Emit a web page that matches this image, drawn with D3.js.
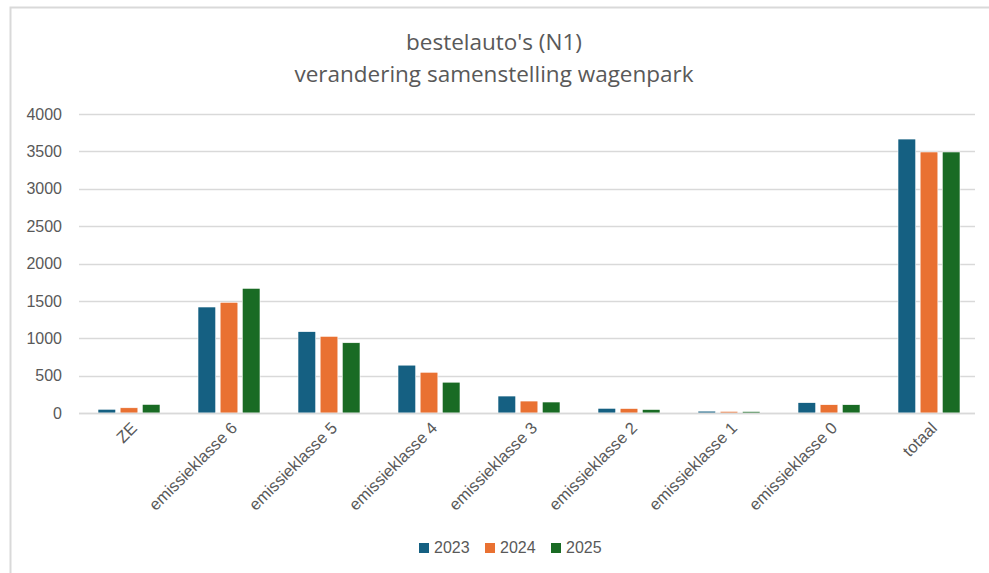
<!DOCTYPE html>
<html>
<head>
<meta charset="UTF-8">
<style>
  body { margin: 0; background: #fff; }
  svg { display: block; }
  .tick text { fill: #595959; }
</style>
</head>
<body>
<svg id="chart"></svg>
<script src="https://d3js.org/d3.v7.min.js"></script>
<script>
// data
const categories = ["ZE", "emissieklasse 6", "emissieklasse 5", "emissieklasse 4",
  "emissieklasse 3", "emissieklasse 2", "emissieklasse 1", "emissieklasse 0", "totaal"];
const years = ["2023", "2024", "2025"];
const values2023 = [50, 1418, 1088, 640, 227, 63, 25, 138, 3665];
const values2024 = [70, 1481, 1026, 545, 160, 60, 22, 111, 3492];
const values2025 = [115, 1668, 940, 412, 147, 47, 20, 111, 3492];
const yTicks = [0, 500, 1000, 1500, 2000, 2500, 3000, 3500, 4000];
const colors = ["#156082", "#e97132", "#196b24"];
const titleLines = ["bestelauto's (N1)", "verandering samenstelling wagenpark"];

const width = 989, height = 573;
const series = [values2023, values2024, values2025];

const svg = d3.select("#chart").attr("width", width).attr("height", height);

// chart area frame (only top + left visible in the screenshot)
svg.append("path")
  .attr("d", "M10.5,580 L10.5,7.5 L1000,7.5")
  .attr("fill", "none")
  .attr("stroke", "#d9d9d9")
  .attr("stroke-width", 2);

const x0 = d3.scaleBand().domain(categories).range([79, 979]).paddingInner(0.38).paddingOuter(0.19);
const x1 = d3.scaleBand().domain(years).range([0, x0.bandwidth()]).paddingInner(0.2).paddingOuter(0);
const y = d3.scaleLinear().domain([0, 4000]).range([413, 114]);

// gridlines
svg.append("g")
  .selectAll("line")
  .data(yTicks)
  .join("line")
  .attr("x1", 79).attr("x2", 975)
  .attr("y1", d => Math.round(y(d)) + 0.5)
  .attr("y2", d => Math.round(y(d)) + 0.5)
  .attr("stroke", "#d9d9d9")
  .attr("stroke-width", 1.3);

// y axis labels
const yAxis = svg.append("g")
  .attr("transform", "translate(62,0)")
  .call(d3.axisLeft(y).tickValues(yTicks).tickFormat(d3.format("d")).tickSize(0).tickPadding(0));
yAxis.select(".domain").remove();
yAxis.selectAll("text")
  .attr("font-family", "'Liberation Sans', Arial, sans-serif")
  .attr("font-size", 16);

// bars
const groups = svg.append("g")
  .selectAll("g")
  .data(categories)
  .join("g")
  .attr("transform", d => `translate(${x0(d)},0)`);

groups.selectAll("rect")
  .data((d, i) => years.map((yr, j) => ({ yr, v: series[j][i], c: colors[j] })))
  .join("rect")
  .attr("x", d => x1(d.yr))
  .attr("width", x1.bandwidth())
  .attr("y", d => y(d.v))
  .attr("height", d => y(0) - y(d.v))
  .attr("fill", d => d.c)
  .attr("stroke", "#fff")
  .attr("stroke-width", 0.6);

// baseline
svg.append("line")
  .attr("x1", 79).attr("x2", 975)
  .attr("y1", 413.5).attr("y2", 413.5)
  .attr("stroke", "#d9d9d9")
  .attr("stroke-width", 1.5);

// x axis labels, rotated
const xAxis = svg.append("g")
  .attr("transform", "translate(0,413)")
  .call(d3.axisBottom(x0).tickSize(0));
xAxis.select(".domain").remove();
xAxis.selectAll("text")
  .attr("font-family", "'Liberation Sans', Arial, sans-serif")
  .attr("font-size", 16.5)
  .attr("text-anchor", "end")
  .attr("dy", 0)
  .attr("transform", "translate(7,14) rotate(-45)");

// title
svg.append("g")
  .selectAll("text")
  .data(titleLines)
  .join("text")
  .attr("x", 494)
  .attr("y", (d, i) => 50 + i * 32)
  .attr("text-anchor", "middle")
  .attr("font-family", "'Open Sans', sans-serif")
  .attr("font-size", 22.5)
  .attr("fill", "#595959")
  .text(d => d);

// legend
const legend = svg.append("g")
  .selectAll("g")
  .data(years)
  .join("g")
  .attr("transform", (d, i) => `translate(${419 + i * 66},543)`);
legend.append("rect")
  .attr("width", 10).attr("height", 10)
  .attr("fill", (d, i) => colors[i]);
legend.append("text")
  .attr("x", 15).attr("y", 10)
  .attr("font-family", "'Liberation Sans', Arial, sans-serif")
  .attr("font-size", 16)
  .attr("fill", "#595959")
  .text(d => d);
</script>
</body>
</html>
